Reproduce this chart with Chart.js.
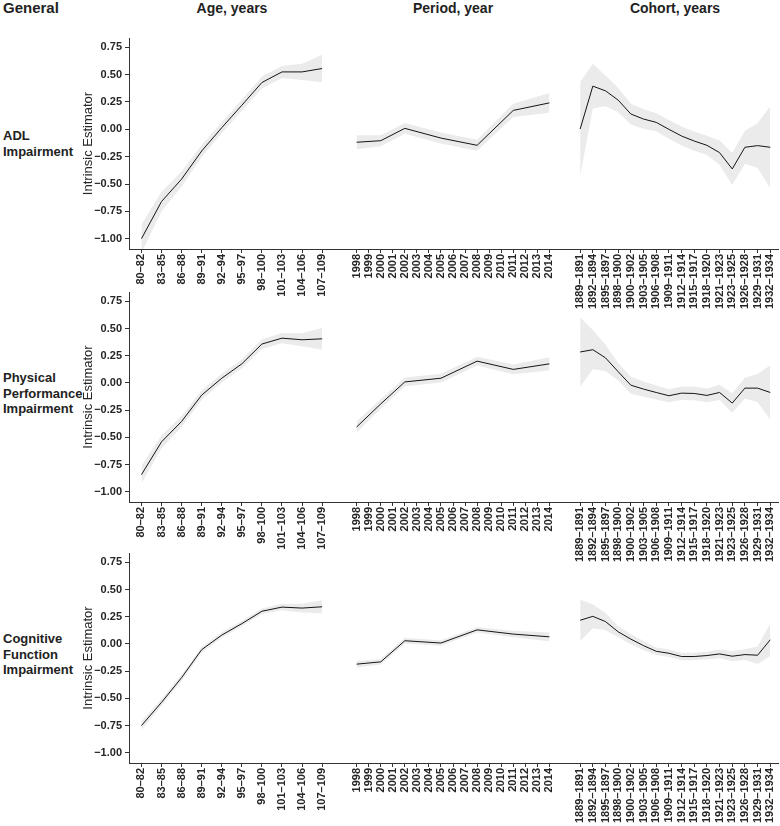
<!DOCTYPE html>
<html>
<head>
<meta charset="utf-8">
<script src="https://cdn.jsdelivr.net/npm/chart.js@4.4.1/dist/chart.umd.min.js"></script>
<style>
  body { margin: 0; background: #fff; width: 780px; height: 826px; overflow: hidden; position: relative; font-family: "Liberation Sans", Arial, sans-serif; }
  canvas { position: absolute; left: 0; }
  .lbl { position: absolute; font-weight: bold; color: #222; white-space: nowrap; }
  .col { font-size: 14px; line-height: 16px; top: 0; transform: translateX(-50%); }
  .row { font-size: 13px; line-height: 15.5px; left: 3px; }
</style>
</head>
<body>
<div class="lbl" style="left:3px;top:0;font-size:15px;line-height:16px">General</div>
<div class="lbl col" style="left:232px">Age, years</div>
<div class="lbl col" style="left:453px">Period, year</div>
<div class="lbl col" style="left:675px">Cohort, years</div>

<div class="lbl row" style="top:128px">ADL<br>Impairment</div>
<div class="lbl row" style="top:370px">Physical<br>Performance<br>Impairment</div>
<div class="lbl row" style="top:631px">Cognitive<br>Function<br>Impairment</div>

<canvas id="rowAdl" width="780" height="281" style="top:30px"></canvas>
<canvas id="rowPhys" width="780" height="280" style="top:284px"></canvas>
<canvas id="rowCog" width="780" height="280" style="top:545px"></canvas>

<script>
// categories / tick labels
const ageLabels = ['80–82', '83–85', '86–88', '89–91', '92–94', '95–97', '98–100', '101–103', '104–106', '107–109'];
const periodTicks = [1998, 1999, 2000, 2001, 2002, 2003, 2004, 2005, 2006, 2007, 2008, 2009, 2010, 2011, 2012, 2013, 2014];
const periodWaves = [1998, 2000, 2002, 2005, 2008, 2011, 2014];
const cohortLabels = ['1889–1891', '1892–1894', '1895–1897', '1898–1900', '1900–1902', '1903–1905', '1906–1908', '1909–1911',
  '1912–1914', '1915–1917', '1918–1920', '1921–1923', '1923–1925', '1926–1928', '1929–1931', '1932–1934'];
const yTicks = [-1, -0.75, -0.5, -0.25, 0, 0.25, 0.5, 0.75];

// ADL impairment: estimate and half-width of the band
const adlAge = [-1.00, -0.66, -0.455, -0.198, 0.015, 0.22, 0.428, 0.525, 0.525, 0.556];
const adlAgeCI = [0.13, 0.09, 0.07, 0.055, 0.05, 0.05, 0.055, 0.055, 0.075, 0.125];
const adlPeriod = [-0.118, -0.104, 0.009, -0.08, -0.146, 0.173, 0.242];
const adlPeriodCI = [0.065, 0.05, 0.05, 0.05, 0.05, 0.06, 0.09];
const adlCohort = [0.003, 0.395, 0.352, 0.267, 0.14, 0.094, 0.064, 0.0, -0.061, -0.107, -0.146, -0.213, -0.362, -0.164, -0.149, -0.164];
const adlCohortCI = [0.43, 0.205, 0.14, 0.11, 0.095, 0.09, 0.082, 0.085, 0.087, 0.088, 0.088, 0.11, 0.146, 0.15, 0.205, 0.375];

// Physical performance impairment
const physAge = [-0.843, -0.541, -0.354, -0.112, 0.043, 0.175, 0.357, 0.411, 0.396, 0.405];
const physAgeCI = [0.08, 0.06, 0.05, 0.045, 0.04, 0.04, 0.045, 0.047, 0.06, 0.10];
const physPeriod = [-0.405, -0.193, 0.009, 0.043, 0.20, 0.124, 0.175];
const physPeriodCI = [0.05, 0.045, 0.04, 0.04, 0.04, 0.045, 0.06];
const physCohort = [0.284, 0.305, 0.23, 0.103, -0.021, -0.057, -0.088, -0.118, -0.094, -0.097, -0.115, -0.088, -0.185, -0.048, -0.048, -0.088];
const physCohortCI = [0.32, 0.18, 0.12, 0.08, 0.078, 0.07, 0.065, 0.06, 0.062, 0.063, 0.063, 0.07, 0.09, 0.095, 0.13, 0.25];

// Cognitive function impairment
const cogAge = [-0.75, -0.537, -0.31, -0.053, 0.081, 0.186, 0.30, 0.338, 0.329, 0.341];
const cogAgeCI = [0.04, 0.03, 0.03, 0.025, 0.025, 0.025, 0.025, 0.03, 0.04, 0.06];
const cogPeriod = [-0.186, -0.165, 0.029, 0.008, 0.129, 0.09, 0.065];
const cogPeriodCI = [0.03, 0.025, 0.025, 0.025, 0.025, 0.03, 0.04];
const cogCohort = [0.217, 0.253, 0.205, 0.111, 0.044, -0.016, -0.068, -0.086, -0.116, -0.116, -0.107, -0.092, -0.113, -0.098, -0.104, 0.038];
const cogCohortCI = [0.19, 0.11, 0.08, 0.05, 0.047, 0.042, 0.035, 0.035, 0.035, 0.035, 0.035, 0.04, 0.045, 0.05, 0.08, 0.15];

const LINE = '#151515';
const BAND = '#ebebeb';
const AXIS = '#333';
const TEXT = '#262626';
const FONT = '"Liberation Sans", Arial, sans-serif';
const X_AXIS_H = 62;

const ageIdx = ageLabels.map((_, i) => i);
const cohortIdx = cohortLabels.map((_, i) => i);

function bandSets(xs, est, ci, axisId) {
  const pts = f => est.map((v, i) => ({ x: xs[i], y: f(v, ci[i]) }));
  return [
    { data: pts(v => v), xAxisID: axisId, borderColor: LINE, borderWidth: 1, pointRadius: 0, fill: false, order: 0 },
    { data: pts((v, c) => v + c), xAxisID: axisId, borderColor: 'rgba(0,0,0,0)', borderWidth: 0, pointRadius: 0, backgroundColor: BAND, fill: '+1', order: 1 },
    { data: pts((v, c) => v - c), xAxisID: axisId, borderColor: 'rgba(0,0,0,0)', borderWidth: 0, pointRadius: 0, fill: false, order: 1 }
  ];
}

function xAxis(min, max, weight, tickValues, label) {
  return {
    type: 'linear', position: 'bottom', stack: 'x', stackWeight: weight,
    min: min, max: max, bounds: 'data',
    afterBuildTicks: a => { a.ticks = tickValues.map(v => ({ value: v })); },
    afterFit: a => { a.height = X_AXIS_H; a.paddingLeft = 0; a.paddingRight = 0; },
    ticks: { autoSkip: false, minRotation: 90, maxRotation: 90, padding: 1, color: TEXT,
      font: { family: FONT, size: 11, weight: 'bold' }, callback: label },
    grid: { drawOnChartArea: false, tickLength: 4, color: AXIS },
    border: { color: AXIS, width: 1 }
  };
}

function fmtY(v) {
  return (v < 0 ? '\u2212' : '') + Math.abs(v).toFixed(2);
}

function makeRow(id, age, ageCI, period, periodCI, cohort, cohortCI) {
  const ctx = document.getElementById(id).getContext('2d');
  return new Chart(ctx, {
    type: 'line',
    data: {
      datasets: [
        ...bandSets(ageIdx, age, ageCI, 'xAge'),
        ...bandSets(periodWaves, period, periodCI, 'xPeriod'),
        ...bandSets(cohortIdx, cohort, cohortCI, 'xCohort')
      ]
    },
    options: {
      responsive: false,
      animation: false,
      devicePixelRatio: 1,
      layout: { padding: { top: 8, left: 0, right: 2, bottom: 0 } },
      plugins: { legend: { display: false }, tooltip: { enabled: false } },
      elements: { line: { tension: 0 } },
      scales: {
        xAge: xAxis(-0.62, 9.86, 210.2, ageIdx, v => ageLabels[v]),
        xPeriod: xAxis(1996.57, 2015.27, 225.1, periodTicks, v => String(v)),
        xCohort: xAxis(-1.22, 15.61, 213.1, cohortIdx, v => cohortLabels[v]),
        y: {
          type: 'linear', position: 'left', min: -1.094, max: 0.835, bounds: 'data',
          afterBuildTicks: a => { a.ticks = yTicks.map(v => ({ value: v })); },
          afterFit: a => { a.width = 129; a.paddingTop = 0; a.paddingBottom = 0; },
          ticks: { padding: 3, color: TEXT, font: { family: FONT, size: 11, weight: 'bold' }, callback: fmtY },
          grid: { drawOnChartArea: false, tickLength: 4, color: AXIS },
          border: { color: AXIS, width: 1 },
          title: { display: true, text: 'Intrinsic Estimator', color: TEXT,
            font: { family: FONT, size: 13 }, padding: { top: 81, bottom: 0 } }
        }
      }
    }
  });
}

makeRow('rowAdl', adlAge, adlAgeCI, adlPeriod, adlPeriodCI, adlCohort, adlCohortCI);
makeRow('rowPhys', physAge, physAgeCI, physPeriod, physPeriodCI, physCohort, physCohortCI);
makeRow('rowCog', cogAge, cogAgeCI, cogPeriod, cogPeriodCI, cogCohort, cogCohortCI);
</script>
</body>
</html>
